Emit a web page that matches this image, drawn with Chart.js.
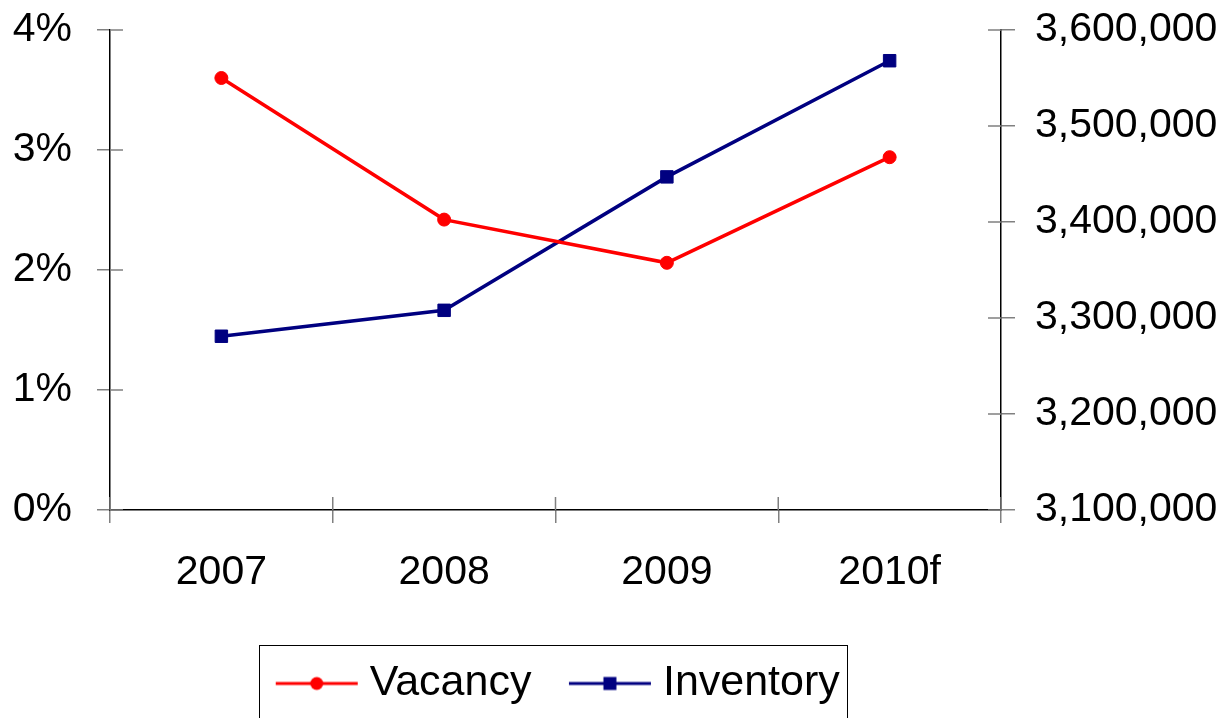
<!DOCTYPE html>
<html>
<head>
<meta charset="utf-8">
<script src="https://cdn.jsdelivr.net/npm/chart.js@4/dist/chart.umd.min.js"></script>
<style>
  html, body { margin: 0; padding: 0; background: #fff; overflow: hidden; }
  canvas { display: block; }
</style>
</head>
<body>
<canvas id="c" width="1230" height="718"></canvas>
<script>
// ---- data ----
const categories = ['2007', '2008', '2009', '2010f'];
const vacancy = [3.60, 2.42, 2.06, 2.94];            // percent, left axis
const inventory = [3281000, 3308000, 3447000, 3568000]; // right axis
const leftTicks = [0, 1, 2, 3, 4];
const rightTicks = [3100000, 3200000, 3300000, 3400000, 3500000, 3600000];

const RED = '#FF0000';
const NAVY = '#000080';
const FONT = "'Liberation Sans', Arial, sans-serif";

const ICON_W = 84, ICON_H = 16, BOX_W = 63;
function makeIcon(color, shape) {
  const cv = document.createElement('canvas');
  cv.width = ICON_W; cv.height = ICON_H;
  const g = cv.getContext('2d');
  g.strokeStyle = color; g.lineWidth = 3;
  g.beginPath(); g.moveTo(1, ICON_H / 2); g.lineTo(ICON_W - 1, ICON_H / 2); g.stroke();
  g.fillStyle = color;
  if (shape === 'circle') {
    g.beginPath(); g.arc(ICON_W / 2, ICON_H / 2, 6.5, 0, Math.PI * 2); g.fill();
  } else {
    g.fillRect(ICON_W / 2 - 6.5, ICON_H / 2 - 6.5, 13, 13);
  }
  return cv;
}
const icons = [makeIcon(RED, 'circle'), makeIcon(NAVY, 'rect')];

const crossTicks = {
  id: 'crossTicks',
  afterLayout(chart) {
    const lg = chart.legend;
    if (lg) { lg.left += 7; lg.right += 7; }
  },
  beforeDatasetsDraw(chart) {
    const ctx = chart.ctx;
    const a = chart.chartArea;
    ctx.save();
    ctx.strokeStyle = '#808080';
    ctx.lineWidth = 1.5;
    const yl = chart.scales.y, yr = chart.scales.y1;
    ctx.beginPath();
    yl.ticks.forEach((t, i) => { const p = yl.getPixelForTick(i); ctx.moveTo(a.left, p); ctx.lineTo(a.left + 13, p); });
    yr.ticks.forEach((t, i) => { const p = yr.getPixelForTick(i); ctx.moveTo(a.right - 13, p); ctx.lineTo(a.right, p); });
    for (let i = 0; i <= categories.length; i++) {
      const px = a.left + (a.right - a.left) * i / categories.length;
      ctx.moveTo(px, a.bottom - 13); ctx.lineTo(px, a.bottom);
    }
    ctx.stroke();
    ctx.restore();
  },
  afterDraw(chart) {
    const lg = chart.legend;
    if (!lg || !lg.legendHitBoxes || !lg.legendHitBoxes.length) return;
    const hb = lg.legendHitBoxes;
    const first = hb[0], last = hb[hb.length - 1];
    const left = first.left + BOX_W / 2 - ICON_W / 2 - 16;
    const right = last.left + last.width + 7;
    const top = lg.top + 30;
    const ctx = chart.ctx;
    ctx.save();
    ctx.strokeStyle = '#000';
    ctx.lineWidth = 1;
    ctx.strokeRect(Math.round(left) + 0.5, Math.round(top) + 0.5, Math.round(right - left), 120);
    ctx.restore();
  }
};

function fixY(width) {
  return function (s) { s.width = width; s.paddingTop = 0; s.paddingBottom = 0; };
}

new Chart(document.getElementById('c'), {
  type: 'line',
  data: {
    labels: categories,
    datasets: [
      {
        label: 'Vacancy', data: vacancy, yAxisID: 'y',
        borderColor: RED, backgroundColor: RED, borderWidth: 3.5,
        pointStyle: 'circle', pointRadius: 6.5, pointBorderWidth: 1,
        pointBackgroundColor: RED, pointBorderColor: RED, tension: 0
      },
      {
        label: 'Inventory', data: inventory, yAxisID: 'y1',
        borderColor: NAVY, backgroundColor: NAVY, borderWidth: 3.5,
        pointStyle: 'rect', pointRadius: 8.8, pointBorderWidth: 1,
        pointBackgroundColor: NAVY, pointBorderColor: NAVY, tension: 0
      }
    ]
  },
  options: {
    responsive: false,
    animation: false,
    layout: { padding: { top: 30, bottom: 3, left: 0, right: 0 } },
    plugins: {
      tooltip: { enabled: false },
      legend: {
        position: 'bottom',
        fullSize: false,
        labels: {
          usePointStyle: true,
          pointStyleWidth: BOX_W,
          padding: 47,
          color: '#000',
          font: { family: FONT, size: 43 },
          generateLabels(chart) {
            const items = Chart.defaults.plugins.legend.labels.generateLabels(chart);
            items.forEach((it, i) => { it.pointStyle = icons[i]; });
            return items;
          }
        }
      }
    },
    scales: {
      x: {
        offset: true,
        grid: { offset: true, drawOnChartArea: false, drawTicks: true, tickLength: 13, color: '#808080', lineWidth: 1.5 },
        border: { display: true, color: '#000', width: 1.5 },
        ticks: { color: '#000', font: { family: FONT, size: 41 }, padding: 25, maxRotation: 0 },
        afterFit(s) { s.height = 105; s.paddingLeft = 0; s.paddingRight = 0; }
      },
      y: {
        position: 'left',
        min: 0, max: 4,
        afterBuildTicks(s) { s.ticks = leftTicks.map(v => ({ value: v })); },
        grid: { drawOnChartArea: false, tickLength: 13, color: '#808080', lineWidth: 1.5 },
        border: { display: true, color: '#000', width: 1.5 },
        ticks: { color: '#000', font: { family: FONT, size: 41 }, padding: 25, callback: v => v + '%' },
        afterFit: fixY(110)
      },
      y1: {
        position: 'right',
        min: 3100000, max: 3600000,
        afterBuildTicks(s) { s.ticks = rightTicks.map(v => ({ value: v })); },
        grid: { drawOnChartArea: false, tickLength: 14, color: '#808080', lineWidth: 1.5 },
        border: { display: true, color: '#000', width: 1.5 },
        ticks: { color: '#000', font: { family: FONT, size: 41 }, padding: 20, callback: v => v.toLocaleString('en-US') },
        afterFit: fixY(229)
      }
    }
  },
  plugins: [crossTicks]
});
</script>
</body>
</html>
